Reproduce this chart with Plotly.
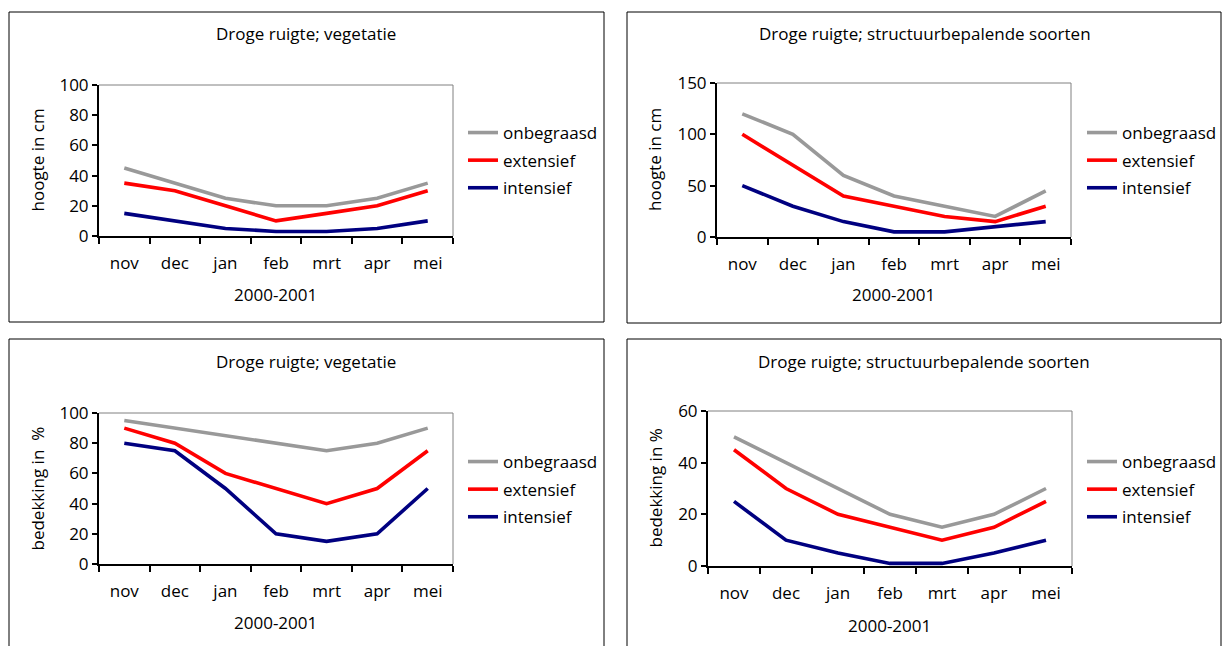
import plotly.graph_objects as go

W, H = 1228, 646

months = ["nov", "dec", "jan", "feb", "mrt", "apr", "mei"]
series_names = ["onbegraasd", "extensief", "intensief"]
colors = ["#999999", "#FF0000", "#000080"]

# Panel 1: Droge ruigte; vegetatie (hoogte in cm)
p1_onbegraasd = [45, 35, 25, 20, 20, 25, 35]
p1_extensief = [35, 30, 20, 10, 15, 20, 30]
p1_intensief = [15, 10, 5, 3, 3, 5, 10]

# Panel 2: Droge ruigte; structuurbepalende soorten (hoogte in cm)
p2_onbegraasd = [120, 100, 60, 40, 30, 20, 45]
p2_extensief = [100, 70, 40, 30, 20, 15, 30]
p2_intensief = [50, 30, 15, 5, 5, 10, 15]

# Panel 3: Droge ruigte; vegetatie (bedekking in %)
p3_onbegraasd = [95, 90, 85, 80, 75, 80, 90]
p3_extensief = [90, 80, 60, 50, 40, 50, 75]
p3_intensief = [80, 75, 50, 20, 15, 20, 50]

# Panel 4: Droge ruigte; structuurbepalende soorten (bedekking in %)
p4_onbegraasd = [50, 40, 30, 20, 15, 20, 30]
p4_extensief = [45, 30, 20, 15, 10, 15, 25]
p4_intensief = [25, 10, 5, 1, 1, 5, 10]

titles = ["Droge ruigte; vegetatie", "Droge ruigte; structuurbepalende soorten",
          "Droge ruigte; vegetatie", "Droge ruigte; structuurbepalende soorten"]
ytitles = ["hoogte in cm", "hoogte in cm", "bedekking in  %", "bedekking in %"]
xtitle = "2000-2001"
yranges = [(0, 100, 20), (0, 150, 50), (0, 100, 20), (0, 60, 20)]

panels_data = [
    [p1_onbegraasd, p1_extensief, p1_intensief],
    [p2_onbegraasd, p2_extensief, p2_intensief],
    [p3_onbegraasd, p3_extensief, p3_intensief],
    [p4_onbegraasd, p4_extensief, p4_intensief],
]

# layout geometry in pixels
plots = [(99, 453, 85, 236), (717, 1071, 83, 237), (99, 453, 413, 564), (708, 1072, 411, 566)]
frames = [(9, 604, 12, 322), (627, 1221, 12, 323), (9, 604, 339, 660), (627, 1221, 339, 660)]
title_pos = [(306, 33), (925, 33), (306, 361), (924, 361)]
xtitle_pos = [(275, 295), (893, 295), (275, 622), (889, 625)]
ytitle_x = [37, 655, 37, 655]
legend_pos = [(463, 115), (1082, 115), (463, 444), (1082, 444)]

FONT = "Open Sans"
FS = 17

def px_x(x):
    return x / W

def px_y(y):
    return 1 - y / H

fig = go.Figure()
layout = dict(
    width=W, height=H, margin=dict(l=0, r=0, t=0, b=0, autoexpand=False),
    paper_bgcolor="white", plot_bgcolor="white",
    font=dict(family=FONT, size=FS, color="#000000"),
    showlegend=True,
)
shapes = []
annotations = []

for i in range(4):
    n = "" if i == 0 else str(i + 1)
    legend_name = "legend" if i == 0 else f"legend{i+1}"
    for j in range(3):
        fig.add_trace(go.Scatter(
            x=months, y=panels_data[i][j], mode="lines", name=series_names[j],
            line=dict(color=colors[j], width=3.6),
            xaxis="x" + n, yaxis="y" + n, legend=legend_name,
            legendgroup=f"p{i}s{j}", showlegend=True,
        ))
    x0, x1, y0, y1 = plots[i]
    lo, hi, step = yranges[i]
    layout["xaxis" + n] = dict(
        domain=[px_x(x0), px_x(x1)], anchor="y" + n, type="category",
        range=[-0.5, 6.5], tickson="boundaries", ticks="outside", ticklen=6,
        tickcolor="black", tickwidth=1.5, showline=True, linecolor="black",
        linewidth=2, showgrid=False, zeroline=False, automargin=False,
        tickfont=dict(family=FONT, size=FS), ticklabelstandoff=11,
        fixedrange=True,
    )
    layout["yaxis" + n] = dict(
        domain=[px_y(y1), px_y(y0)], anchor="x" + n,
        range=[lo, hi], tickmode="linear", tick0=lo, dtick=step,
        ticks="outside", ticklen=5, tickcolor="black", tickwidth=1.5,
        showline=True, linecolor="black", linewidth=2, showgrid=False,
        zeroline=False, automargin=False, tickfont=dict(family=FONT, size=FS),
        fixedrange=True,
    )
    layout[legend_name] = dict(
        x=px_x(legend_pos[i][0]), y=px_y(legend_pos[i][1]),
        xanchor="left", yanchor="top", bgcolor="rgba(0,0,0,0)",
        font=dict(family=FONT, size=FS), tracegroupgap=2.5,
    )
    # plot-area top/right border
    shapes.append(dict(type="line", xref="paper", yref="paper",
                       x0=px_x(x0), x1=px_x(x1), y0=px_y(y0), y1=px_y(y0),
                       line=dict(color="#808080", width=1)))
    shapes.append(dict(type="line", xref="paper", yref="paper",
                       x0=px_x(x1), x1=px_x(x1), y0=px_y(y0), y1=px_y(y1),
                       line=dict(color="#808080", width=1)))
    # chart frame
    fx0, fx1, fy0, fy1 = frames[i]
    shapes.append(dict(type="rect", xref="paper", yref="paper",
                       x0=px_x(fx0), x1=px_x(fx1), y0=px_y(fy0), y1=px_y(fy1),
                       line=dict(color="black", width=1)))
    annotations.append(dict(text=titles[i], xref="paper", yref="paper",
                            x=px_x(title_pos[i][0]), y=px_y(title_pos[i][1]),
                            xanchor="center", yanchor="middle", showarrow=False,
                            font=dict(family=FONT, size=FS)))
    annotations.append(dict(text=xtitle, xref="paper", yref="paper",
                            x=px_x(xtitle_pos[i][0]), y=px_y(xtitle_pos[i][1]),
                            xanchor="center", yanchor="middle", showarrow=False,
                            font=dict(family=FONT, size=FS)))
    annotations.append(dict(text=ytitles[i], xref="paper", yref="paper",
                            x=px_x(ytitle_x[i]), y=px_y((y0 + y1) / 2),
                            xanchor="center", yanchor="middle", showarrow=False,
                            textangle=-90, font=dict(family=FONT, size=FS)))

layout["shapes"] = shapes
layout["annotations"] = annotations
fig.update_layout(**layout)
fig.write_html("out.html")
